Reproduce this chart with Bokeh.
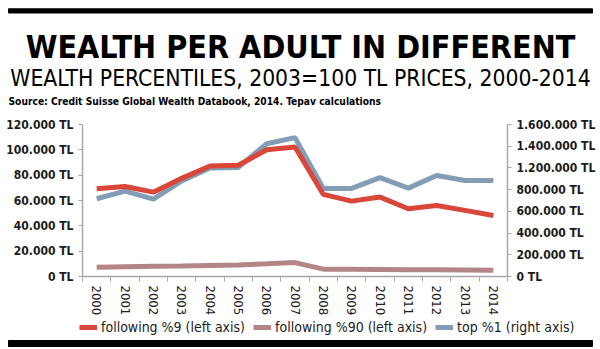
import math
from bokeh.plotting import figure
from bokeh.layouts import column
from bokeh.models import (Range1d, LinearAxis, FixedTicker, Legend, LegendItem,
                          ColumnDataSource)
from bokeh.core.properties import value
from bokeh.embed import file_html
from bokeh.resources import INLINE

# ---------------- data ----------------
years = list(range(2000, 2015))
following9 = [69300, 71100, 66600, 77500, 87200, 87800, 100100, 102200,
              64800, 59500, 62700, 53500, 56100, 52200, 48200]
following90 = [7400, 7700, 8000, 8300, 8700, 9100, 10000, 11000,
               5800, 5700, 5600, 5400, 5300, 5100, 4900]
top1 = [716000, 787000, 713000, 880000, 999000, 1005000, 1223000, 1279000,
        811000, 811000, 910000, 814000, 931000, 885000, 885000]

left_ticks = [0, 20000, 40000, 60000, 80000, 100000, 120000]
left_labels = ["0 TL", "20.000 TL", "40.000 TL", "60.000 TL", "80.000 TL",
               "100.000 TL", "120.000 TL"]
right_ticks = [0, 200000, 400000, 600000, 800000, 1000000, 1200000, 1400000]
right_labels = ["0 TL", "200.000 TL", "400.000 TL", "600.000 TL", "800.000 TL",
                "1.200.000 TL", "1.400.000 TL", "1.600.000 TL"]

series_names = ["following %9 (left axis)", "following %90 (left axis)",
                "top %1 (right axis)"]
title_text = "WEALTH PER ADULT IN DIFFERENT"
subtitle_text = "WEALTH PERCENTILES, 2003=100 TL PRICES, 2000-2014"
source_text = "Source: Credit Suisse Global Wealth Databook, 2014. Tepav calculations"

# ---------------- style ----------------
W = 600
HEAD_H, MAIN_H, FOOT_H = 116, 203, 30
RED = "#d9463a"
ROSE = "#b38584"
BLUE = "#829db5"
AXIS_C = "#a8a8a8"
TXT = "#1c1c1c"
COND = "DejaVu Sans Condensed"
LW = 5


def blank(h):
    f = figure(width=W, height=h, x_range=Range1d(0, W), y_range=Range1d(h, 0),
               x_axis_type=None, y_axis_type=None, output_backend="svg",
               toolbar_location=None, min_border=0, frame_align=False)
    f.outline_line_color = None
    f.xgrid.grid_line_color = None
    f.ygrid.grid_line_color = None
    f.background_fill_color = "white"
    f.border_fill_color = "white"
    return f

# ---------------- header ----------------
head = blank(HEAD_H)
head.quad(left=[8], right=[592], top=[8.3], bottom=[12.5], color="black")
head.text(x=[300], y=[46.7], text=[title_text], text_align="center",
          text_baseline="alphabetic", text_font=value(COND),
          text_font_style="bold", text_font_size="32px", text_color="black")
head.text(x=[300], y=[77.5], text=[subtitle_text], text_align="center",
          text_baseline="alphabetic", text_font=value(COND),
          text_font_size="22.7px", text_color="black")
head.text(x=[8], y=[100.7], text=[source_text], text_align="left",
          text_baseline="alphabetic", text_font=value(COND),
          text_font_style="bold", text_font_size="10.2px", text_color="black")

# ---------------- main chart ----------------
FL, FR = 82, 507
p = figure(width=W, height=MAIN_H, x_range=Range1d(1999.5, 2014.5),
           y_range=Range1d(0, 120000), output_backend="svg",
           toolbar_location=None, min_border_left=FL, min_border_right=W - FR,
           min_border_top=8, min_border_bottom=43, frame_align=False)
p.outline_line_color = None
p.xgrid.grid_line_color = None
p.ygrid.grid_line_color = None
p.background_fill_color = "white"
p.border_fill_color = "white"
p.extra_y_ranges = {"right": Range1d(0, 1400000)}

src = ColumnDataSource(dict(year=years, f9=following9, f90=following90, t1=top1))
p.line("year", "t1", source=src, y_range_name="right", line_color=BLUE,
       line_width=LW)
p.line("year", "f90", source=src, line_color=ROSE, line_width=LW)
p.line("year", "f9", source=src, line_color=RED, line_width=LW)

xa = p.xaxis[0]
xa.ticker = FixedTicker(ticks=years, minor_ticks=[y - 0.5 for y in years] + [2014.5])
xa.major_label_overrides = {y: str(y) for y in years}
xa.major_tick_out = 0
xa.major_tick_in = 0
xa.minor_tick_out = 5
xa.minor_tick_in = 0
xa.minor_tick_line_color = AXIS_C
xa.axis_line_color = AXIS_C
xa.axis_line_width = 1.5
xa.major_label_orientation = -math.pi / 2
xa.major_label_standoff = 4
xa.major_label_text_font = COND
xa.major_label_text_font_size = "13px"
xa.major_label_text_color = TXT

ya = p.yaxis[0]
ya.ticker = FixedTicker(ticks=left_ticks)
ya.major_label_overrides = dict(zip(left_ticks, left_labels))
ya.major_tick_out = 4
ya.major_tick_in = 0
ya.minor_tick_line_color = None
ya.major_tick_line_color = AXIS_C
ya.axis_line_color = AXIS_C
ya.axis_line_width = 1.5
ya.major_label_standoff = 5
ya.major_label_text_font = COND
ya.major_label_text_font_style = "bold"
ya.major_label_text_font_size = "12px"
ya.major_label_text_color = TXT

ra = LinearAxis(y_range_name="right", ticker=FixedTicker(ticks=right_ticks))
ra.major_label_overrides = dict(zip(right_ticks, right_labels))
ra.major_tick_out = 4
ra.major_tick_in = 0
ra.minor_tick_line_color = None
ra.major_tick_line_color = AXIS_C
ra.axis_line_color = AXIS_C
ra.axis_line_width = 1.5
ra.major_label_standoff = 5
ra.major_label_text_font = COND
ra.major_label_text_font_style = "bold"
ra.major_label_text_font_size = "12px"
ra.major_label_text_color = TXT
p.add_layout(ra, "right")

# ---------------- footer: legend + black rule ----------------
foot = blank(FOOT_H)
# legend-key renderers (kept outside the visible strip; only their style is used)
k9 = foot.line(x=[-20, -10], y=[-20, -20], line_color=RED, line_width=LW)
k90 = foot.line(x=[-20, -10], y=[-20, -20], line_color=ROSE, line_width=LW)
k1 = foot.line(x=[-20, -10], y=[-20, -20], line_color=BLUE, line_width=LW)
legend = Legend(items=[LegendItem(label=series_names[0], renderers=[k9]),
                       LegendItem(label=series_names[1], renderers=[k90]),
                       LegendItem(label=series_names[2], renderers=[k1])],
                orientation="horizontal", location=(79, 14),
                padding=0, margin=0, spacing=8, label_standoff=4,
                glyph_width=18, glyph_height=16, label_height=16,
                border_line_alpha=0, background_fill_alpha=0,
                label_text_font=COND, label_text_font_size="14px",
                label_text_color=TXT)
foot.add_layout(legend, "center")
foot.quad(left=[8], right=[592], top=[21], bottom=[27], color="black")

layout = column(head, p, foot, spacing=0)
open("out.html", "w").write(file_html(layout, INLINE))
